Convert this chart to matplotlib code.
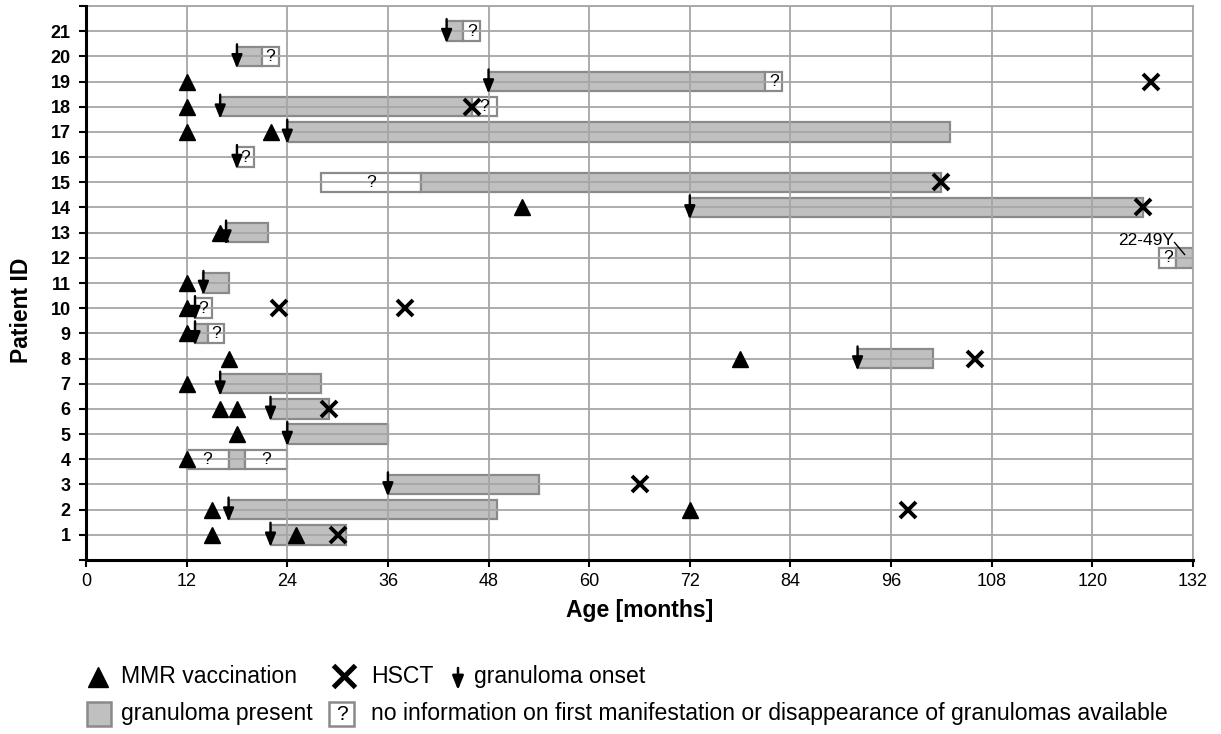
import numpy as np
import matplotlib.pyplot as plt
from matplotlib.patches import Rectangle

plt.rcParams['font.family'] = ['Liberation Sans', 'DejaVu Sans']

# Granuloma-Phasen je Patient: grau = vorhanden, 'q' = keine Information
seg_patient = [1, 2, 3, 4, 4, 4, 5, 6, 7, 8, 9, 9, 10, 11, 12, 12, 13, 14,
               15, 15, 16, 17, 18, 18, 19, 19, 20, 20, 21, 21]
seg_start = [22, 17, 36, 12, 17, 19, 24, 22, 16, 92, 13, 14.5, 13, 14, 128, 130,
             16.7, 72, 28, 40, 18, 24, 16, 46, 48, 81, 18, 21, 43, 45]
seg_end = [31, 49, 54, 17, 19, 24, 36, 29, 28, 101, 14.5, 16.5, 15, 17, 130, 132,
           21.7, 126, 40, 102, 20, 103, 46, 49, 81, 83, 21, 23, 45, 47]
seg_kind = ['g', 'g', 'g', 'q', 'g', 'q', 'g', 'g', 'g', 'g', 'g', 'q', 'q', 'g',
            'q', 'g', 'g', 'g', 'q', 'g', 'q', 'g', 'g', 'q', 'g', 'q', 'g', 'q',
            'g', 'q']

# MMR-Impfung
mmr_patient = [1, 1, 2, 2, 4, 5, 6, 6, 7, 8, 8, 9, 10, 11, 13, 14, 17, 17, 18, 19]
mmr_age = [15, 25, 15, 72, 12, 18, 16, 18, 12, 17, 78, 12, 12, 12, 16, 52, 12, 22, 12, 12]

# HSCT
hsct_patient = [1, 2, 3, 6, 8, 10, 10, 14, 15, 18, 19]
hsct_age = [30, 98, 66, 29, 106, 23, 38, 126, 102, 46, 127]

# Beginn der Granulome
onset_patient = [1, 2, 3, 5, 6, 7, 8, 9, 10, 11, 13, 14, 16, 17, 18, 19, 20, 21]
onset_age = [22, 17, 36, 24, 22, 16, 92, 13, 13, 14, 16.7, 72, 18, 24, 16, 48, 18, 43]

x_ticks = list(range(0, 133, 12))
y_ticks = list(range(0, 23))
y_ticklabels = [''] + [str(i) for i in range(1, 22)] + ['']

GRAY = '#c0c0c0'
EDGE = '#8a8a8a'
GRID = '#a6a6a6'
H = 0.77
ARROW = '-|>,head_length=0.5,head_width=0.2'

fig = plt.figure(figsize=(12.21, 7.34), dpi=100)
ax = fig.add_axes([86 / 1221, 1 - 560 / 734, (1193 - 86) / 1221, (560 - 6) / 734])

for p, s, e, k in zip(seg_patient, seg_start, seg_end, seg_kind):
    ax.barh(p, e - s, left=s, height=H, color=GRAY if k == 'g' else 'white',
            edgecolor=EDGE, linewidth=1.6, zorder=1)
    if k == 'q':
        ax.text((s + e) / 2, p, '?', ha='center', va='center', fontsize=12.5, zorder=3)

ax.plot(mmr_age, mmr_patient, '^', color='black', ms=11, ls='none', zorder=4)
ax.plot(hsct_age, hsct_patient, 'x', color='black', ms=11, mew=2.8, ls='none', zorder=4)
for p, a in zip(onset_patient, onset_age):
    ax.annotate('', xy=(a, p - 0.48), xytext=(a, p + 0.48),
                arrowprops=dict(arrowstyle=ARROW, color='black', lw=1.7,
                                mutation_scale=16, shrinkA=0, shrinkB=0), zorder=5)

# Hinweis Patient 12
ax.text(126.4, 12.67, '22-49Y', ha='center', va='center', fontsize=12.5, zorder=5)
ax.plot([129.8, 131.0], [12.61, 12.13], color='black', lw=1, zorder=5)

ax.set_xlim(0, 132)
ax.set_ylim(0, 22)
ax.set_xticks(x_ticks)
ax.set_yticks(y_ticks)
ax.set_yticklabels(y_ticklabels, fontweight='bold')
ax.tick_params(axis='x', labelsize=13, length=5, width=1.5, pad=4)
ax.tick_params(axis='y', labelsize=13, length=5, width=1.5, pad=6)
ax.set_axisbelow(False)
ax.grid(True, color=GRID, lw=1.3, zorder=2)
for side in ['left', 'bottom']:
    ax.spines[side].set_linewidth(2.2)
    ax.spines[side].set_color('black')
    ax.spines[side].set_zorder(6)
for side in ['top', 'right']:
    ax.spines[side].set_linewidth(1.3)
    ax.spines[side].set_color(GRID)

# Beschriftungen und Legende in Pixelkoordinaten
lax = fig.add_axes([0, 0, 1, 1], facecolor='none')
lax.set_xlim(0, 1221)
lax.set_ylim(734, 0)
lax.axis('off')

lax.text(639.5, 610, 'Age [months]', ha='center', va='center', fontsize=16.5, fontweight='bold')
lax.text(22, 310, 'Patient ID', ha='center', va='center', rotation=90, fontsize=16.5, fontweight='bold')

FS = 16.6
lax.plot([98], [677], '^', color='black', ms=15)
lax.text(120.7, 683, 'MMR vaccination', fontsize=FS, va='baseline')
lax.plot([344], [676], 'x', color='black', ms=16, mew=3.6)
lax.text(370.7, 683, 'HSCT', fontsize=FS, va='baseline')
lax.annotate('', xy=(458, 690), xytext=(458, 668),
             arrowprops=dict(arrowstyle=ARROW, color='black', lw=1.8,
                             mutation_scale=17, shrinkA=0, shrinkB=0))
lax.text(474, 683, 'granuloma onset', fontsize=FS, va='baseline')

lax.add_patch(Rectangle((87, 702), 24, 24, facecolor=GRAY, edgecolor=EDGE, lw=1.8))
lax.text(120.7, 720, 'granuloma present', fontsize=FS, va='baseline')
lax.add_patch(Rectangle((329, 702), 25, 24, facecolor='white', edgecolor=EDGE, lw=1.8))
lax.text(341.5, 714, '?', fontsize=15, ha='center', va='center')
lax.text(370.7, 720, 'no information on first manifestation or disappearance of granulomas available',
         fontsize=FS, va='baseline')

fig.savefig('out.png', dpi=100)
